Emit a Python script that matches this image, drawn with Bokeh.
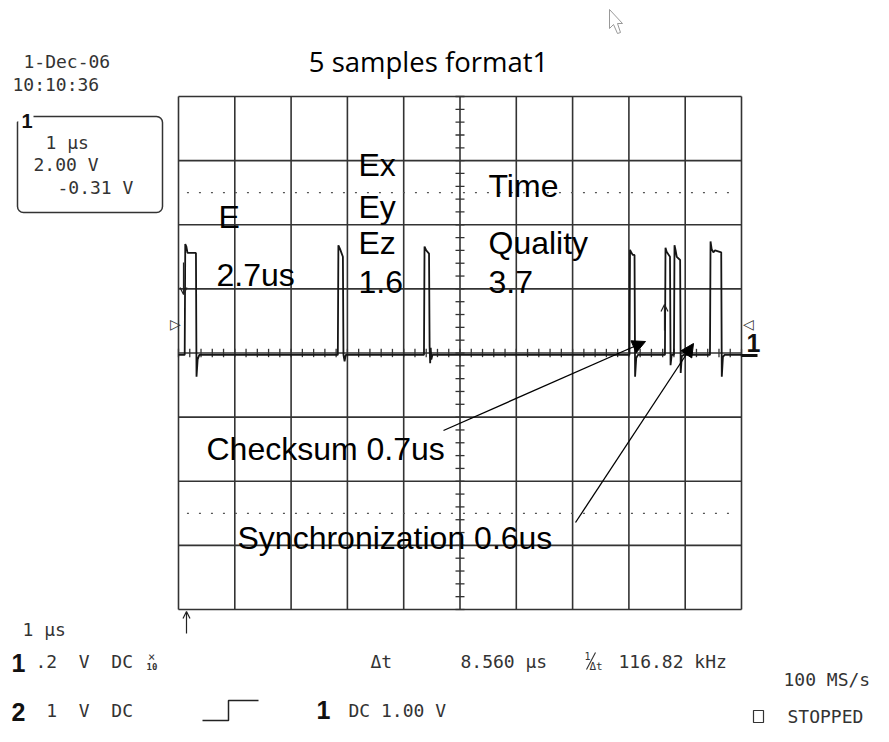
import numpy as np
from bokeh.plotting import figure
from bokeh.models import Range1d, Arrow, NormalHead, OpenHead
from bokeh.core.properties import value
from bokeh.embed import file_html
from bokeh.resources import INLINE

# ---------------- data ----------------
title_text = "5 samples format1"
timestamp_lines = ["1-Dec-06", "10:10:36"]
channel_box_lines = ["1 µs", "2.00 V", "-0.31 V"]

x_divisions = [0, 1, 2, 3, 4, 5, 6, 7, 8, 9, 10]      # µs  (1 µs / div)
y_divisions = [-4, -3, -2, -1, 0, 1, 2, 3, 4]         # vertical divisions
dotted_levels = [-2.5, 2.5]
minor_tick_step = 0.2

# captured trace: time (µs) and level (divisions)
trace_t = [0.00, 0.11, 0.12, 0.14, 0.16, 0.31, 0.32, 0.34, 0.37,
           2.83, 2.84, 2.87, 2.92, 2.93, 2.95, 2.97,
           4.36, 4.37, 4.40, 4.45, 4.46, 4.47, 4.48, 4.49, 4.51,
           8.01, 8.02, 8.04, 8.07, 8.10, 8.11, 8.13, 8.16,
           8.64, 8.65, 8.67, 8.73, 8.74, 8.76,
           8.80, 8.81, 8.83, 8.85, 8.91, 8.92, 8.94, 8.97,
           9.44, 9.45, 9.47, 9.50, 9.53, 9.64, 9.65, 9.67, 9.70, 10.00]
trace_v = [-0.03, -0.03, 1.70, 1.66, 1.56, 1.56, -0.37, -0.10, -0.03,
           -0.03, 1.68, 1.62, 1.50, -0.03, -0.13, -0.03,
           -0.03, 1.66, 1.60, 1.55, 0.10, -0.16, 0.08, -0.10, -0.03,
           -0.03, 1.61, 1.57, 1.53, 1.53, -0.37, -0.08, -0.03,
           -0.03, 1.64, 1.58, 1.50, -0.19, -0.03,
           -0.03, 1.68, 1.60, 1.50, 1.45, -0.31, -0.05, -0.03,
           -0.03, 1.74, 1.62, 1.57, 1.60, 1.57, -0.37, -0.06, -0.03, -0.03]

field_labels = ["E", "2.7us", "Ex", "Ey", "Ez", "1.6", "Time", "Quality", "3.7"]
callout_labels = ["Checksum 0.7us", "Synchronization 0.6us"]

timebase_text = "1 µs"
ch1_settings = ".2  V  DC"
ch2_settings = " 1  V  DC"
delta_t_label = "Δt"
delta_t_value = "8.560 µs"
inv_delta_t_value = "116.82 kHz"
sample_rate = "100 MS/s"
trigger_setting = "DC 1.00 V"
status_text = "STOPPED"

# ---------------- layout ----------------
W, H = 873, 726
SX, SY = 56.3, 64.125          # pixels per division
X0, Y0 = 178.0, 352.5          # picture pixel of (0 µs, 0 div)


def gx(px):
    return (px - X0) / SX


def gy(py):
    return (Y0 - py) / SY


def keep_spaces(items):
    return [s.replace(" ", "\u00a0") for s in items]


p = figure(width=W, height=H, output_backend="svg", toolbar_location=None,
           x_range=Range1d(gx(0), gx(W)),
           y_range=Range1d(gy(H), gy(0)),
           x_axis_type=None, y_axis_type=None, min_border=0,
           outline_line_color=None, background_fill_color="white",
           border_fill_color="white")

GRID = "#333333"
MONO = value("DejaVu Sans Mono")
SANS = value("Liberation Sans")
TXT = "#333333"
MID = "middle"

xmin, xmax = x_divisions[0], x_divisions[-1]
ymin, ymax = y_divisions[0], y_divisions[-1]
xc = (xmin + xmax) / 2
yc = (ymin + ymax) / 2

# graticule
p.segment(x0=x_divisions, y0=[ymin] * len(x_divisions), x1=x_divisions,
          y1=[ymax] * len(x_divisions), line_color=GRID, line_width=1.6)
p.segment(x0=[xmin] * len(y_divisions), y0=y_divisions, x1=[xmax] * len(y_divisions),
          y1=y_divisions, line_color=GRID, line_width=1.6)
p.segment(x0=[xmin + 0.15] * len(dotted_levels), y0=dotted_levels,
          x1=[xmax - 0.1] * len(dotted_levels), y1=dotted_levels,
          line_color="#555555", line_width=1.3, line_dash="2 10")
ty = np.arange(ymin, ymax + 1e-9, minor_tick_step)
p.segment(x0=[xc - 0.08] * len(ty), y0=ty, x1=[xc + 0.08] * len(ty), y1=ty,
          line_color=GRID, line_width=1.3)
tx = np.arange(xmin, xmax + 1e-9, minor_tick_step)
p.segment(x0=tx, y0=[yc - 0.065] * len(tx), x1=tx, y1=[yc + 0.065] * len(tx),
          line_color=GRID, line_width=1.3)

# trace
p.line(trace_t, trace_v, line_color="#151515", line_width=1.8)

# channel marker at right
p.segment(x0=[gx(741)], y0=[gy(355)], x1=[gx(757)], y1=[gy(355)],
          line_color="#111111", line_width=3)
p.text(x=[gx(746)], y=[gy(342.5)], text=["1"], text_font=SANS,
       text_font_size="25px", text_font_style="bold", text_color="#111111",
       text_baseline=MID)
p.text(x=[gx(175), gx(748)], y=[gy(323), gy(323)], text=["▷", "◁"],
       text_font=value("DejaVu Sans"), text_font_size="14px", text_color="#333333",
       text_align="center", text_baseline=MID)

# cursor markers
for (x_px, y0_px, y1_px) in [(183, 262, 294), (664, 330, 304), (186, 633, 611)]:
    p.add_layout(Arrow(x_start=gx(x_px), y_start=gy(y0_px), x_end=gx(x_px), y_end=gy(y1_px),
                       line_color="#222222", line_width=1.2,
                       end=OpenHead(size=7, line_color="#222222", line_width=1.2)))

# field annotations (left edge, cap centre)
field_pos = [(218, 216.5), (216, 274), (358, 164.5), (358, 206), (358, 242), (358, 281),
             (488, 185.5), (488, 242.5), (488, 281)]
callout_pos = [(206, 448), (237, 537.5)]
p.text(x=[gx(a) for a, b in field_pos + callout_pos],
       y=[gy(b) for a, b in field_pos + callout_pos],
       text=field_labels + callout_labels, text_font=SANS, text_font_size="32px",
       text_color="black", text_baseline=MID)

# callout arrows
for (xs, ys, xe, ye) in [(443, 430, 645, 341), (575, 522, 693, 343)]:
    p.add_layout(Arrow(x_start=gx(xs), y_start=gy(ys), x_end=gx(xe), y_end=gy(ye),
                       line_color="black", line_width=1.3,
                       end=NormalHead(size=13, fill_color="black", line_color="black")))

# title
p.text(x=[gx(428)], y=[gy(61)], text=[title_text], text_font=value("Open Sans"),
       text_font_size="27.5px", text_color="black", text_align="center",
       text_baseline=MID)

# timestamp
p.text(x=[gx(23), gx(12)], y=[gy(60.5), gy(83.5)], text=keep_spaces(timestamp_lines),
       text_font=MONO, text_font_size="18px", text_color=TXT, text_baseline=MID)

# channel box
p.quad(left=[gx(17)], right=[gx(162)], top=[gy(116)], bottom=[gy(212)],
       fill_color=None, line_color=TXT, line_width=1.5, border_radius=6)
p.quad(left=[gx(14)], right=[gx(33)], top=[gy(106)], bottom=[gy(121)],
       fill_color="white", line_color=None)
p.text(x=[gx(21)], y=[gy(120)], text=["1"], text_font=SANS, text_font_size="20px",
       text_font_style="bold", text_color="#111111", text_baseline=MID)
p.text(x=[gx(45), gx(33), gx(57)], y=[gy(141.5), gy(164), gy(187)],
       text=keep_spaces(channel_box_lines), text_font=MONO, text_font_size="18px",
       text_color=TXT, text_baseline=MID)

# bottom status area
p.text(x=[gx(22), gx(35), gx(35), gx(348), gx(370), gx(460), gx(618), gx(783), gx(787)],
       y=[gy(629), gy(660.5), gy(709.5), gy(709.5), gy(660.5), gy(660.5), gy(660.5),
          gy(678.5), gy(716)],
       text=keep_spaces([timebase_text, ch1_settings, ch2_settings, trigger_setting,
                         delta_t_label, delta_t_value, inv_delta_t_value, sample_rate,
                         status_text]),
       text_font=MONO, text_font_size="18px", text_color=TXT, text_baseline=MID)
p.text(x=[gx(11), gx(11), gx(316)], y=[gy(662.5), gy(711), gy(709)], text=["1", "2", "1"],
       text_font=SANS, text_font_size="25px", text_font_style="bold",
       text_color="#111111", text_baseline=MID)
# probe x10 marker
p.text(x=[gx(151)], y=[gy(656.5)], text=["×"], text_font=MONO, text_font_size="12px",
       text_color=TXT, text_align="center", text_baseline=MID)
p.text(x=[gx(151.5)], y=[gy(666)], text=["10"], text_font=MONO, text_font_size="9px",
       text_font_style="bold", text_color=TXT, text_align="center", text_baseline=MID)
# 1/Δt symbol
p.text(x=[gx(584)], y=[gy(655)], text=["1"], text_font=MONO, text_font_size="10px",
       text_color=TXT, text_baseline=MID)
p.segment(x0=[gx(586)], y0=[gy(669)], x1=[gx(595)], y1=[gy(652)], line_color=TXT,
          line_width=1.1)
p.text(x=[gx(589)], y=[gy(666)], text=["Δt"], text_font=MONO, text_font_size="11px",
       text_color=TXT, text_baseline=MID)
# trigger slope symbol
p.line([gx(202), gx(228), gx(228), gx(258)], [gy(720), gy(720), gy(700), gy(700)],
       line_color="#222222", line_width=1.5)
# stopped box
p.quad(left=[gx(753)], right=[gx(763)], top=[gy(710)], bottom=[gy(722)],
       fill_color=None, line_color=TXT, line_width=1.2)

# mouse pointer
ptr = [(609, 9), (609, 28), (613, 24), (617, 33), (620, 32), (617, 23), (622, 23)]
p.patch([gx(a) for a, b in ptr], [gy(b) for a, b in ptr], fill_color="white",
        line_color="#999999", line_width=1)

open("out.html", "w").write(file_html(p, INLINE))
